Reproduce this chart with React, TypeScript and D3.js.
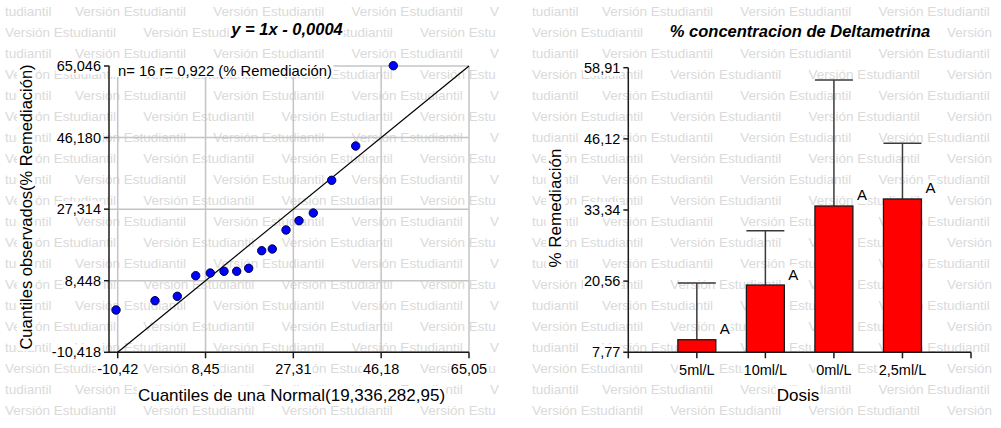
import React, { useEffect, useRef } from 'react';
import * as d3 from 'd3';

// ---- Q-Q plot data ----
const qqTheoretical = [-10.78, -2.41, 2.38, 6.34, 9.47, 12.42, 15.14, 17.72, 20.52, 22.79, 25.74, 28.53, 31.6, 35.55, 40.71, 48.79];
const qqObserved = [0.73, 3.18, 4.34, 9.77, 10.48, 10.93, 10.93, 11.72, 16.36, 16.81, 21.82, 24.27, 26.3, 34.92, 43.96, 65.13];
const qqXTicks = [-10.42, 8.45, 27.31, 46.18, 65.05];
const qqXTickLabels = ['-10,42', '8,45', '27,31', '46,18', '65,05'];
const qqYTicks = [-10.418, 8.448, 27.314, 46.18, 65.046];
const qqYTickLabels = ['-10,418', '8,448', '27,314', '46,180', '65,046'];
const fitSlope = 1;
const fitIntercept = -0.0004;

// ---- Bar chart data ----
const doses = ['5ml/L', '10ml/L', '0ml/L', '2,5ml/L'];
const meanRemediation = [10.03, 19.86, 34.06, 35.32];
const upperError = [20.22, 29.62, 56.7, 45.32];
const groupLetters = ['A', 'A', 'A', 'A'];
const barYTicks = [7.77, 20.56, 33.34, 46.12, 58.91];
const barYTickLabels = ['7,77', '20,56', '33,34', '46,12', '58,91'];

const FONT = '"Liberation Sans", Arial, Helvetica, sans-serif';
const W = 1001;
const H = 428;

type LabelOpts = {
  x: number;
  y: number;
  text: string;
  size: number;
  anchor?: string;
  weight?: string;
  italic?: boolean;
  rotate?: boolean;
  baseline?: string;
  pad?: number;
  bg?: boolean;
};

function label(g: any, o: LabelOpts) {
  const grp = g
    .append('g')
    .attr('transform', o.rotate ? `translate(${o.x},${o.y}) rotate(-90)` : `translate(${o.x},${o.y})`);
  const rect = grp.append('rect').attr('fill', '#fff');
  const t = grp
    .append('text')
    .attr('x', 0)
    .attr('y', 0)
    .attr('font-family', FONT)
    .attr('font-size', o.size)
    .attr('fill', '#000')
    .attr('text-anchor', o.anchor || 'start')
    .attr('font-weight', o.weight || 'normal')
    .attr('font-style', o.italic ? 'italic' : 'normal')
    .text(o.text);
  if (o.baseline === 'middle') t.attr('dy', '0.35em');
  if (o.bg === false) {
    rect.remove();
    return;
  }
  const bb = (t.node() as SVGTextElement).getBBox();
  const p = o.pad ?? 1;
  rect
    .attr('x', bb.x - p)
    .attr('y', bb.y)
    .attr('width', bb.width + 2 * p)
    .attr('height', bb.height);
}

// watermark text truncated (character by character) so it stays inside [.., right]
function wmText(g: any, x: number, y: number, s: string, right: number) {
  if (x >= right) return;
  const t = g.append('text').attr('x', x).attr('y', y).text(s);
  let str = s;
  const node = t.node() as SVGTextElement;
  while (str.length > 0 && x + node.getComputedTextLength() > right) {
    str = str.slice(0, -1).trimEnd();
    t.text(str);
  }
  if (str.length === 0) t.remove();
}

export default function App() {
  const ref = useRef<SVGSVGElement>(null);

  useEffect(() => {
    const svg = d3.select(ref.current);
    svg.selectAll('*').remove();

    svg.append('rect').attr('width', W).attr('height', H).attr('fill', '#fff');

    // ---- watermark ----
    const period = 138.3;
    const panels = [
      { x0: 5, right: 499 },
      { x0: 532, right: 1000 },
    ];
    panels.forEach((p) => {
      const wg = svg
        .append('g')
        .attr('font-family', FONT)
        .attr('font-size', 13.5)
        .attr('fill', '#dadada');
      for (let r = 0; r < 20; r++) {
        const y = 16 + 21 * r;
        if (r % 2 === 0) {
          wmText(wg, p.x0, y, 'tudiantil', p.right);
          for (let j = 0; j < 4; j++) {
            wmText(wg, p.x0 + 70 + j * period, y, 'Versión Estudiantil', p.right);
          }
        } else {
          for (let j = 0; j < 4; j++) {
            wmText(wg, p.x0 + j * period, y, 'Versión Estudiantil', p.right);
          }
        }
      }
    });

    // ================= LEFT: Q-Q plot =================
    const qx = d3.scaleLinear().domain([-10.42, 65.05]).range([117.7, 469]);
    const qy = d3.scaleLinear().domain([-10.418, 65.046]).range([352.3, 66]);
    const axisX = 109;
    const L = svg.append('g');

    // gridlines
    qqXTicks.forEach((t) => {
      L.append('line')
        .attr('x1', qx(t)).attr('x2', qx(t))
        .attr('y1', qy(65.046)).attr('y2', qy(-10.418))
        .attr('stroke', '#c4c4c4').attr('stroke-width', 1.5);
    });
    qqYTicks.forEach((t) => {
      L.append('line')
        .attr('x1', axisX).attr('x2', qx(65.05))
        .attr('y1', qy(t)).attr('y2', qy(t))
        .attr('stroke', '#c4c4c4').attr('stroke-width', 1.5);
    });

    // axes
    const axisColor = '#1a1a1a';
    L.append('line').attr('x1', axisX).attr('x2', axisX).attr('y1', qy(65.046)).attr('y2', qy(-10.418))
      .attr('stroke', axisColor).attr('stroke-width', 1.5);
    L.append('line').attr('x1', axisX).attr('x2', qx(65.05)).attr('y1', qy(-10.418)).attr('y2', qy(-10.418))
      .attr('stroke', axisColor).attr('stroke-width', 1.5);
    qqYTicks.forEach((t) => {
      L.append('line').attr('x1', axisX - 5).attr('x2', axisX).attr('y1', qy(t)).attr('y2', qy(t))
        .attr('stroke', axisColor).attr('stroke-width', 1.5);
    });
    qqXTicks.forEach((t) => {
      L.append('line').attr('x1', qx(t)).attr('x2', qx(t)).attr('y1', qy(-10.418)).attr('y2', qy(-10.418) + 6)
        .attr('stroke', axisColor).attr('stroke-width', 1.5);
    });

    // fitted line
    const xd = qx.domain();
    L.append('line')
      .attr('x1', qx(xd[0])).attr('y1', qy(fitSlope * xd[0] + fitIntercept))
      .attr('x2', qx(xd[1])).attr('y2', qy(fitSlope * xd[1] + fitIntercept))
      .attr('stroke', '#000').attr('stroke-width', 1.2);

    // annotation (white box covers gridlines)
    L.append('rect').attr('x', 110.5).attr('y', 61).attr('width', 223).attr('height', 16).attr('fill', '#fff');
    label(L, { x: 118, y: 75.5, text: 'n= 16 r= 0,922 (% Remediación)', size: 14.8, bg: false });

    // points
    qqTheoretical.forEach((v, i) => {
      L.append('circle')
        .attr('cx', qx(v)).attr('cy', qy(qqObserved[i])).attr('r', 4.2)
        .attr('fill', '#0000ff').attr('stroke', '#000044').attr('stroke-width', 1);
    });

    // tick labels
    qqYTicks.forEach((t, i) => {
      label(L, { x: axisX - 8, y: qy(t), text: qqYTickLabels[i], size: 14.5, anchor: 'end', baseline: 'middle' });
    });
    qqXTicks.forEach((t, i) => {
      label(L, { x: qx(t), y: 374, text: qqXTickLabels[i], size: 14.5, anchor: 'middle' });
    });

    // titles
    label(L, { x: 287, y: 35, text: 'y = 1x - 0,0004', size: 16.5, anchor: 'middle', weight: 'bold', italic: true });
    label(L, { x: 291.5, y: 401, text: 'Cuantiles de una Normal(19,336,282,95)', size: 17, anchor: 'middle' });
    label(L, { x: 32, y: 207, text: 'Cuantiles observados(% Remediación)', size: 16.5, anchor: 'middle', rotate: true });

    // ================= RIGHT: bar chart =================
    const bx = d3.scaleLinear().domain([0, doses.length + 1]).range([628.3, 971]);
    const by = d3.scaleLinear().domain([7.77, 58.91]).range([352.3, 67.7]);
    const R = svg.append('g');
    const halfW = 0.277;

    // error bars
    doses.forEach((d, i) => {
      const cx = bx(i + 1);
      R.append('line').attr('x1', cx).attr('x2', cx).attr('y1', by(meanRemediation[i])).attr('y2', by(upperError[i]))
        .attr('stroke', '#3a3a3a').attr('stroke-width', 1.5);
      R.append('line').attr('x1', bx(i + 1 - halfW)).attr('x2', bx(i + 1 + halfW))
        .attr('y1', by(upperError[i])).attr('y2', by(upperError[i]))
        .attr('stroke', '#3a3a3a').attr('stroke-width', 1.5);
    });

    // bars
    doses.forEach((d, i) => {
      const x0 = bx(i + 1 - halfW);
      const x1 = bx(i + 1 + halfW);
      R.append('rect')
        .attr('x', x0).attr('y', by(meanRemediation[i]))
        .attr('width', x1 - x0).attr('height', by(7.77) - by(meanRemediation[i]))
        .attr('fill', '#ff0000').attr('stroke', '#1a1a1a').attr('stroke-width', 1.3);
    });

    // axes
    R.append('line').attr('x1', bx(0)).attr('x2', bx(0)).attr('y1', by(58.91)).attr('y2', by(7.77) + 6)
      .attr('stroke', axisColor).attr('stroke-width', 1.5);
    R.append('line').attr('x1', bx(0)).attr('x2', bx(doses.length + 1)).attr('y1', by(7.77)).attr('y2', by(7.77))
      .attr('stroke', axisColor).attr('stroke-width', 1.5);
    barYTicks.forEach((t) => {
      R.append('line').attr('x1', bx(0) - 5).attr('x2', bx(0)).attr('y1', by(t)).attr('y2', by(t))
        .attr('stroke', axisColor).attr('stroke-width', 1.5);
    });
    d3.range(1, doses.length + 2).forEach((k) => {
      R.append('line').attr('x1', bx(k)).attr('x2', bx(k)).attr('y1', by(7.77)).attr('y2', by(7.77) + 6)
        .attr('stroke', axisColor).attr('stroke-width', 1.5);
    });

    // labels
    barYTicks.forEach((t, i) => {
      label(R, { x: bx(0) - 8, y: by(t), text: barYTickLabels[i], size: 14.5, anchor: 'end', baseline: 'middle' });
    });
    doses.forEach((d, i) => {
      label(R, { x: bx(i + 1), y: 375, text: d, size: 14.5, anchor: 'middle' });
      label(R, { x: bx(i + 1 + halfW) + 4, y: by(meanRemediation[i]) - 5.5, text: groupLetters[i], size: 15 });
    });
    label(R, { x: 800, y: 36.5, text: '% concentracion de Deltametrina', size: 16.5, anchor: 'middle', weight: 'bold', italic: true });
    label(R, { x: 798, y: 400.5, text: 'Dosis', size: 17, anchor: 'middle' });
    label(R, { x: 561, y: 208, text: '% Remediación', size: 17, anchor: 'middle', rotate: true });
  }, []);

  return (
    <svg
      ref={ref}
      width={W}
      height={H}
      style={{ position: 'absolute', left: 0, top: 0, display: 'block' }}
    />
  );
}
